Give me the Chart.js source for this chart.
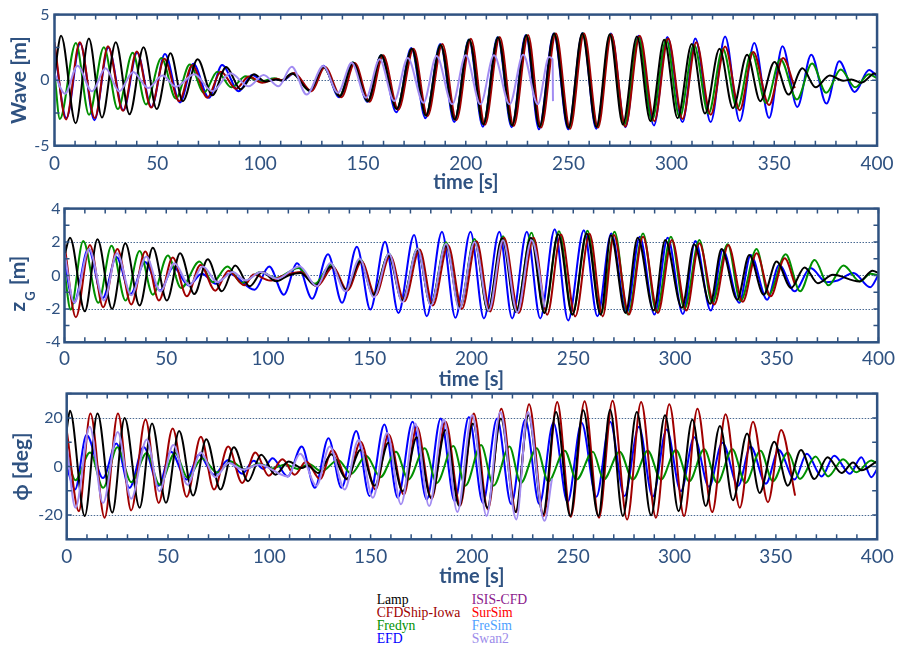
<!DOCTYPE html>
<html><head><meta charset="utf-8">
<script src="https://cdn.jsdelivr.net/npm/chart.js@4.4.1/dist/chart.umd.min.js"></script>
<style>
html,body{margin:0;padding:0;background:#fff;width:900px;height:647px;overflow:hidden;position:relative}
canvas{position:absolute;left:0}
.leg{position:absolute;font-family:'Liberation Serif','Times New Roman',serif;font-size:13.7px;line-height:13px;white-space:nowrap}
</style></head><body>
<canvas id="c1" width="900" height="195" style="top:0px"></canvas>
<canvas id="c2" width="900" height="197" style="top:195px"></canvas>
<canvas id="c3" width="900" height="209" style="top:380px"></canvas>
<div id="legend"></div>
<script>
// ---------- DATA: [time s, value] at read-off peaks / troughs ----------
const xTickLabels = [0, 50, 100, 150, 200, 250, 300, 350, 400];
const legendNames  = ['Lamp', 'CFDShip-Iowa', 'Fredyn', 'EFD', 'ISIS-CFD', 'SurSim', 'FreSim', 'Swan2'];
const legendColors = ['#000000', '#A00000', '#009000', '#0000FF', '#8B1A8B', '#FF0000', '#4DA0FF', '#9C8CEA'];

// Wave [m]
const waveLamp = [[0,0.4],[3.2,3.38],[10.3,-3.28],[16.7,3.18],[23.1,-2.85],[29.8,2.89],[36.5,-2.6],[43.3,2.51],[49.7,-2.2],[56.4,2.06],[62.4,-1.6],[69.6,1.6],[76.8,-1.15],[83.5,1.0],[90.5,-0.7],[97,0.45],[102.5,-0.1],[108,0.05],[110.5,-0.05],[115.5,0.5],[124.2,-0.8],[130.7,1.02],[138.7,-1.22],[145.2,1.32],[152.4,-1.6],[158.9,1.89],[166.4,-2.2],[173.8,2.39],[180.6,-2.7],[187.8,2.69],[194.6,-3.0],[201.7,3.08],[208.5,-3.38],[215.7,3.26],[222.5,-3.45],[229.4,3.43],[235.8,-3.58],[242.9,3.56],[249.9,-3.63],[256.6,3.56],[263.5,-3.58],[270,3.5],[276.4,-3.38],[283.2,3.33],[289.8,-3.13],[296.5,3.08],[303,-2.9],[309.9,2.76],[316.3,-2.54],[323.4,2.39],[329.9,-2.14],[336.8,1.94],[343.2,-1.6],[350.1,1.39],[356.9,-1.1],[363.7,0.9],[370.1,-0.55],[377,0.35],[383.5,-0.05],[387.5,0.05],[392.4,-0.2],[398.8,0.5],[400,0.45]];
const waveCFDShip = [[0,2.9],[5.6,-3.0],[12.3,2.89],[19.6,-2.9],[26,2.59],[33.3,-2.34],[40,2.19],[47,-2.09],[53.4,1.64],[60.6,-1.6],[67,1.14],[74.3,-1.34],[80.9,0.65],[88.3,-0.65],[94.5,0.27],[101,-0.2],[108,0.1],[110.5,0],[116.5,0.55],[125,-0.85],[131.5,1.0],[139.5,-1.3],[146,1.3],[153.2,-1.65],[159.8,1.9],[167.2,-2.25],[174.6,2.4],[181.4,-2.75],[188.6,2.75],[195.4,-3.05],[202.5,3.15],[209.3,-3.4],[216.5,3.3],[223.3,-3.5],[230.3,3.45],[236.6,-3.62],[243.8,3.56],[250.7,-3.7],[257.5,3.56],[264.3,-3.62],[270.8,3.5],[277.6,-3.53],[284.6,3.38],[291.7,-3.13],[298.4,3.18],[305.4,-2.96],[312.1,2.89],[319.1,-2.64],[326.1,2.56],[333.2,-2.29],[339.8,2.14],[347.5,-1.9],[354.3,1.69],[360,-0.6]];
const waveFredyn = [[0,0.6],[2.6,-2.96],[10.4,2.84],[16.8,-2.64],[24,2.51],[30.8,-2.21],[38,2.09],[44.5,-1.85],[52,1.69],[59,-1.4],[65.8,1.19],[72.7,-0.95],[79.2,0.65],[86,-0.55],[93,0.3],[100,-0.1],[107,0.15],[110.5,0],[116,0.5],[124,-0.8],[130.8,1.0],[138.6,-1.2],[145.2,1.35],[152.4,-1.6],[158.9,1.9],[166.4,-2.2],[173.8,2.4],[180.6,-2.7],[187.8,2.7],[194.6,-3.0],[201.7,3.1],[208.5,-3.35],[215.7,3.28],[222.5,-3.45],[229.6,3.45],[236,-3.58],[243.2,3.56],[250.2,-3.63],[257,3.58],[264,-3.6],[270.3,3.5],[277,-3.45],[284,3.3],[290.5,-3.1],[297.5,3.1],[304,-2.85],[311,2.7],[318,-2.55],[325,2.4],[332,-2.15],[339,2.1],[346,-1.75],[353,1.6],[361,-1.47],[368.4,1.27],[375.3,-0.97],[382.3,0.82],[389.4,-0.55],[396,0.45],[400,0.15]];
const waveEFD = [[0,2.4],[5.8,-2.9],[12.5,2.8],[19.4,-3.05],[26.2,2.5],[33.5,-2.3],[40.2,2.1],[47.2,-2.05],[53.7,2.0],[61,-1.7],[67.5,1.25],[75.1,-1.35],[81.5,1.15],[89.6,-0.85],[96.1,0.4],[102,-0.1],[105.7,0.1],[111,0],[116.5,0.5],[124.5,-0.85],[130.7,1.1],[138.5,-1.3],[145,1.35],[152.2,-1.65],[158.8,1.89],[166.2,-2.45],[173.5,2.45],[180.4,-2.9],[187.6,2.75],[194.4,-3.2],[201.5,3.1],[208.3,-3.55],[215.5,3.3],[222.3,-3.6],[229.2,3.45],[235.6,-3.75],[242.8,3.56],[249.8,-3.75],[256.8,3.6],[263.4,-3.7],[270.6,3.56],[277.6,-3.6],[284,3.38],[291.5,-3.45],[298,3.3],[305.4,-3.2],[311.6,3.18],[319.1,-3.2],[326.1,3.33],[333.2,-3.13],[340.3,2.84],[347.5,-2.89],[354,2.59],[361.2,-2.04],[368,1.94],[375.4,-1.79],[381.6,1.44],[389.1,-0.9],[396.1,0.77],[400,0.3]];
const waveSwan2 = [[0,0.5],[5.1,-1.04],[11.2,1.09],[18.2,-0.85],[24.8,0.9],[31.5,-0.85],[38.2,0.62],[45.5,-0.6],[52.5,0.35],[59,-0.5],[68,0.45],[76.7,-0.84],[85.6,0.52],[94.4,-0.47],[101.7,0.4],[108.9,-0.47],[115.4,1.02],[122.6,-1.1],[130.7,1.08],[137.8,-0.97],[144.5,1.32],[151.5,-1.34],[158.1,1.59],[165.2,-1.59],[171.8,1.69],[179.4,-1.72],[185.8,1.84],[193.4,-1.84],[200,1.89],[207.1,-1.84],[213.7,1.89],[221.3,-1.84],[227.9,1.94],[235,-1.84],[240.5,1.77],[242.2,1.6],[242.4,-1.6]];

// z_G [m]
const zLamp = [[0,1.2],[2.7,2.26],[10,-2.14],[16.2,2.16],[23.4,-2.0],[29.9,1.92],[36.9,-1.8],[43.4,1.66],[50.3,-1.5],[56.8,1.33],[63.8,-1.11],[70.4,0.97],[77.3,-0.95],[83.9,0.59],[91,-0.65],[97.2,0.2],[104,-0.35],[110,0.0],[116,0.15],[123.3,-0.6],[131.1,0.53],[138.3,-0.85],[145.3,0.83],[151.8,-1.15],[159.2,1.19],[166,-1.5],[173.5,1.52],[180,-1.74],[187.4,1.78],[194.2,-1.94],[201.5,2.02],[208.1,-2.1],[215,2.22],[221.9,-2.18],[229.2,2.26],[235.8,-2.24],[242.6,2.46],[249.6,-2.34],[256.6,2.51],[263.5,-2.34],[268.5,2.4],[275.7,-2.24],[281.7,2.26],[289.5,-2.1],[295.2,2.12],[303.4,-1.94],[309.4,1.86],[317.3,-1.7],[322.9,1.58],[330.6,-1.45],[336.5,1.23],[343.6,-1.15],[349.9,0.83],[357.1,-0.75],[363.7,0.48],[370.2,-0.46],[377.6,0.04],[390.6,-0.36],[397.1,0.28],[400,0.14]];
const zCFDShip = [[0,1.86],[5.6,-2.5],[12.5,1.82],[19,-1.9],[26,1.58],[32.8,-1.74],[39.7,1.43],[46.4,-1.5],[53.2,1.07],[60.1,-1.25],[66.8,0.63],[74.1,-0.91],[80.6,0.28],[88.3,-0.59],[93,0.05],[101,-0.3],[108,0.0],[116,0.2],[124,-0.65],[132,0.5],[139,-0.9],[146,0.83],[152.8,-1.2],[160,1.2],[167,-1.55],[174.5,1.55],[181,-1.8],[188.5,1.8],[195.3,-2.0],[202.5,2.05],[209.2,-2.15],[216,2.25],[223.2,-2.25],[230.5,2.25],[237.2,-2.35],[244,2.45],[251,-2.45],[258,2.5],[264.5,-2.45],[270,2.42],[277.4,-2.34],[284.3,2.32],[291.6,-2.24],[298.5,2.12],[305.6,-2.1],[312,1.92],[319.3,-1.74],[326.2,1.82],[333.3,-1.58],[340.1,1.33],[347,-1.25],[353.9,1.03],[359,-0.55]];
const zFredyn = [[0,0.24],[3,-2.04],[9.2,2.06],[16.6,-1.64],[23.1,1.78],[30,-1.5],[36.9,1.47],[43.4,-1.15],[50.8,1.19],[57.3,-0.75],[66.3,0.83],[72.8,-0.4],[80.1,0.53],[87,-0.45],[96.4,0.2],[104,-0.15],[115,0.45],[123,-0.5],[131,0.65],[138.3,-0.85],[145.5,0.95],[151.8,-1.15],[159.5,1.3],[166,-1.5],[173.5,1.62],[180,-1.74],[187.5,1.98],[194.2,-1.94],[201.5,2.18],[208.1,-2.1],[215.5,2.35],[221.9,-2.18],[229.5,2.55],[235.8,-2.24],[243,2.65],[249.6,-2.34],[257,2.68],[263.5,-2.34],[270.3,2.61],[276.9,-2.34],[284.3,2.51],[290.9,-2.18],[298,2.32],[304.7,-1.98],[312,2.12],[318.3,-1.64],[325.9,1.86],[332.2,-1.54],[340.1,1.58],[346,-1.15],[354.4,1.27],[361.5,-0.95],[368.6,0.93],[375.4,-0.59],[382.8,0.59],[390.9,-0.36],[396,0.1],[400,0.0]];
const zEFD = [[0,0.8],[4.6,-1.65],[11.7,1.6],[18.8,-1.35],[25.5,1.1],[32.5,-1.1],[39.5,0.8],[47,-0.9],[53.5,0.5],[61,-0.6],[67.5,0.1],[74.4,-0.5],[81,0.1],[93.4,-0.85],[100.6,0.53],[107.8,-1.15],[114.3,0.73],[121.7,-1.39],[129.5,1.27],[136.4,-1.64],[143.7,1.72],[150.3,-2.04],[157.5,2.02],[164.1,-2.24],[171.8,2.42],[178,-2.44],[185.5,2.61],[192.1,-2.53],[199.5,2.61],[206.1,-2.57],[213.7,2.61],[220,-2.57],[227.2,2.61],[233.8,-2.57],[240.9,2.77],[247.5,-2.69],[255.2,2.71],[261.9,-2.44],[268.7,2.51],[276.2,-2.24],[282.7,2.32],[289.9,-2.34],[296.4,2.26],[303.9,-2.3],[310,2.06],[317.6,-2.1],[323.5,1.52],[331.6,-1.64],[337.2,1.23],[345.3,-1.45],[351.2,0.63],[358.8,-0.95],[366.6,0.44],[374.4,-0.4],[380,-0.3],[387.7,0.14],[395.9,-0.71],[400,0.04]];
const zSwan2 = [[0,1.33],[4.8,-1.64],[12.1,1.58],[19.4,-1.5],[25.8,1.33],[32.8,-1.19],[40.2,1.13],[47.1,-0.95],[54,0.73],[61.4,-0.59],[67.9,0.53],[75.2,-0.4],[82.6,0.2],[89,-0.3],[96.5,0.2],[104.5,-0.2],[115.5,0.55],[124,-0.65],[130.6,0.75],[138,-0.95],[145,1.0],[152,-1.3],[159.5,1.3],[166,-1.6],[173.5,1.6],[180,-1.8],[187.5,1.9],[194,-2.0],[201.5,2.0],[208.5,-2.1],[215.5,2.1],[222.5,-2.2],[229.5,2.1],[236,-1.9]];

// phi [deg]
const phiLamp = [[0,15],[1.6,22.9],[8.9,-20.4],[15.2,21.8],[22.5,-19],[28.6,20],[36,-17],[42.1,17.7],[49,-15],[55.5,14.6],[62.4,-12],[68.9,11.2],[75.9,-9.5],[82.5,7.9],[89.5,-6.1],[96,4.8],[103,-3.4],[109.5,2.0],[116,-0.6],[119,0.3],[124.2,-2.7],[130.7,5.0],[138.1,-5.2],[145,6.8],[152,-7.9],[158.8,9.8],[165.9,-10.2],[172.8,12],[179.8,-12.9],[187,15],[193.7,-16.3],[200.5,17.7],[207.6,-17],[214.3,19.7],[221.5,-18.8],[227.9,21.1],[235.1,-19.7],[241.5,22.4],[248.5,-20.4],[254.9,23.1],[262.4,-20.4],[268.2,23.4],[274.5,-20.4],[281.4,22.4],[288.4,-20.1],[295.3,21.1],[302,-18.4],[308.8,19.3],[315.4,-16.3],[322.4,16.7],[328.8,-13.9],[335.8,13.6],[342,-10.9],[349.2,10.2],[355.9,-7.9],[362.4,6.8],[369,-5.2],[375.5,3.8],[382.4,-2.7],[388.1,1.6],[392.2,-1.6],[399.6,2.0]];
const phiCFDShip = [[0,15],[6,-18.4],[11.7,21.8],[18.7,-21.1],[25.3,21.8],[31.8,-18.1],[38.9,19.3],[45.4,-15],[52.3,15.6],[59.2,-12.5],[66.2,12.2],[72.7,-9.5],[79.7,8.2],[86.6,-6.8],[93.1,5.7],[99.7,-3.8],[106.5,3.0],[112.5,-3.4],[118.2,2.0],[125,-5.2],[131.2,6.8],[138.6,-5.4],[145,10.2],[152.4,-9.5],[158.8,13.3],[166.4,-11.6],[172.8,16.3],[180.1,-13.3],[187,18.4],[194.2,-16.1],[200.9,21.8],[207.9,-17.7],[214.5,23.8],[221.8,-18.8],[228.2,25.6],[235.4,-20.4],[242.1,26.5],[248.8,-20.7],[255.6,26.9],[262.7,-21.1],[269.4,27.1],[276.6,-21.8],[283.5,26.5],[290.8,-21.1],[297.4,25.6],[304.7,-20.4],[311.3,23.8],[318.6,-18.8],[325.2,21.5],[332.2,-17],[338.7,18.4],[346.1,-14.7],[352.6,15],[359.5,-12]];
const phiFredyn = [[0,6],[4.3,-5.7],[11.5,5.7],[18,-8.8],[25,7.9],[31.9,-6.5],[39.5,5.5],[45.8,-7.5],[53.5,5.5],[59.8,-4.8],[66.8,3.4],[74.2,-2.5],[81,2.0],[88,-1.2],[95,1.2],[101.5,-0.8],[108,0.8],[114,-1.0],[119.5,1.0],[125.8,-2.0],[133.9,2.7],[140.4,-3.0],[147.8,4.4],[154.8,-4.4],[162.5,6.1],[168.6,-5.4],[176.7,7.5],[182.6,-6.8],[190.8,8.4],[196.8,-7.9],[204.5,8.8],[210.7,-7.9],[218.5,8.2],[224.1,-6.8],[231.9,7.5],[237.7,-6.1],[245.8,6.5],[251.6,-5.4],[259.7,6.1],[265,-5.4],[272.9,6.1],[279.4,-5.4],[286.8,6.5],[293.3,-5.4],[300.7,6.8],[307.2,-6.1],[314.6,7.1],[321.1,-6.8],[328.5,7.1],[335,-6.8],[342.4,6.5],[348.5,-6.1],[355.9,5.7],[361.9,-5.2],[369.6,4.1],[375.8,-4.1],[383.2,3.0],[389.7,-2.4],[397.1,2.4],[400,1.2]];
const phiEFD = [[0,0],[4.1,-9.5],[9.8,12.9],[17.9,-4.8],[24.5,9.5],[31,-8.8],[38,8],[45.4,-7.9],[51.4,6.1],[59.2,-5.4],[65.3,4.8],[72.7,-3.4],[79.7,2.7],[86.6,-3.0],[92.3,2.3],[97,-1.0],[101.6,3.4],[109,-4.1],[116,8.2],[122.5,-8.8],[129.2,11.6],[135.6,-8.8],[142.9,14.6],[149.5,-12.2],[156.8,17.3],[163.4,-12.9],[170.7,18.4],[177.7,-13.6],[184.6,19.7],[191.5,-14.3],[198.5,20.4],[205.4,-15],[212.4,19.7],[219.4,-15.6],[226.3,19.3],[233.3,-15.6],[240.2,18],[247.2,-14.7],[254.1,18],[261.4,-12.5],[268.2,18.4],[275.3,-12.2],[282.4,16.3],[289.2,-12.5],[296.1,15.2],[303.1,-10.2],[309.7,12],[317,-8.4],[323.6,9.8],[331.4,-7.9],[337.5,8.2],[345.1,-7.1],[351.4,6.8],[359.2,-5.4],[365.3,5.2],[372.6,-4.1],[378.8,4.4],[386.5,-3.0],[392.2,3.8],[397.1,-4.4],[400,-1.1]];
const phiSwan2 = [[0,8.8],[4.3,-17],[11.4,16.3],[17.9,-15.1],[25.2,14.2],[31.8,-13.3],[39.5,11.1],[45.7,-10.2],[52.6,8.8],[59.6,-7.5],[66.2,5.7],[73.2,-4.4],[80,1.4],[87,-1.3],[95,0.8],[109,-4.1],[115.2,5.2],[123.3,-7.9],[129.8,8.2],[137.2,-9.5],[144,10.9],[151.1,-12.9],[158.1,13.9],[165,-15.6],[172,17.7],[178.9,-16.3],[186.2,19.3],[192.8,-18.8],[200.1,21.1],[207.2,-20.4],[214,22.4],[221.9,-21.8],[227.6,22.4],[235.8,-22.4],[239.5,-5]];

// ---------- STYLE ----------
const AXIS = '#2f5281';
const FONT = "Lato, 'Open Sans', sans-serif";
const COL = {lamp:'#000000', cfd:'#A00000', fredyn:'#009000', efd:'#0000FF', swan2:'#A28CF2'};

const framePlugin = {
  id: 'frame',
  beforeDatasetsDraw(chart, args, opts) {
    const {ctx, chartArea: a, scales: {y}} = chart;
    ctx.save();
    ctx.strokeStyle = '#4a6a92'; ctx.lineWidth = 1; ctx.setLineDash([1.5, 1.5]);
    (opts.gridValues || []).forEach(v => {
      const py = Math.round(y.getPixelForValue(v)) + 0.5;
      ctx.beginPath(); ctx.moveTo(a.left, py); ctx.lineTo(a.right, py); ctx.stroke();
    });
    ctx.restore();
  },
  afterDraw(chart, args, opts) {
    const {ctx, chartArea: a, scales: {x, y}} = chart;
    ctx.save();
    ctx.strokeStyle = AXIS; ctx.lineWidth = 1.5;
    ctx.beginPath();
    x.ticks.forEach(t => { const px = x.getPixelForValue(t.value);
      ctx.moveTo(px, a.bottom); ctx.lineTo(px, a.bottom - 5);
      ctx.moveTo(px, a.top); ctx.lineTo(px, a.top + 5); });
    y.ticks.forEach(t => { const py = y.getPixelForValue(t.value);
      ctx.moveTo(a.left, py); ctx.lineTo(a.left + 5, py);
      ctx.moveTo(a.right, py); ctx.lineTo(a.right - 5, py); });
    ctx.stroke();
    ctx.lineWidth = 2.5;
    ctx.strokeRect(a.left, a.top, a.right - a.left, a.bottom - a.top);
    if (opts.zTitle) {
      // rotated "z_G [m]" title with subscript
      ctx.fillStyle = AXIS;
      ctx.translate(25, (a.top + a.bottom) / 2 + 36);
      ctx.rotate(-Math.PI / 2);
      ctx.textBaseline = 'alphabetic'; ctx.textAlign = 'left';
      ctx.font = 'bold 21px ' + FONT;
      ctx.fillText('z', 0, 0);
      const wz = ctx.measureText('z').width;
      ctx.font = 'bold 13px ' + FONT;
      ctx.fillText('G', wz + 1, 10);
      const wg = ctx.measureText('G').width;
      ctx.font = 'bold 21px ' + FONT;
      ctx.fillText(' [m]', wz + wg + 2, 0);
    }
    ctx.restore();
  }
};

function ds(label, arr, color) {
  return { label, data: arr.map(p => ({x: p[0], y: p[1]})), borderColor: color, borderWidth: 2,
           pointRadius: 0, fill: false, cubicInterpolationMode: 'monotone' };
}

function makePanel(id, o) {
  return new Chart(document.getElementById(id), {
    type: 'line',
    data: { datasets: o.datasets },
    options: {
      responsive: false, animation: false, devicePixelRatio: 1,
      layout: { padding: { top: o.top, right: 17.3, left: 0, bottom: 0 } },
      plugins: { legend: {display: false}, tooltip: {enabled: false},
                 frame: { gridValues: o.grid, zTitle: !!o.zTitle } },
      scales: {
        x: { type: 'linear', min: 0, max: 400,
             grid: {display: false, drawTicks: false}, border: {display: false},
             ticks: { stepSize: 10, maxTicksLimit: 100, autoSkip: false, maxRotation: 0, padding: o.xPad,
                      color: AXIS, font: {family: FONT, size: 19},
                      callback: v => xTickLabels.includes(v) ? String(v) : '' },
             title: { display: true, text: 'time [s]', color: AXIS,
                      font: {family: FONT, size: 20, weight: 'bold'}, padding: {top: 0, bottom: 0} },
             afterFit: s => { s.height = o.xH; } },
        y: { type: 'linear', min: o.ymin, max: o.ymax,
             grid: {display: false, drawTicks: false}, border: {display: false},
             ticks: { stepSize: o.ystep, maxTicksLimit: 100, autoSkip: false, padding: o.yPad,
                      color: AXIS, font: {family: FONT, size: 16},
                      callback: v => o.yLabels.includes(v) ? String(v) : '' },
             title: { display: !!o.ytitle, text: o.ytitle || '', color: AXIS,
                      font: {family: FONT, size: 21, weight: 'bold'}, padding: {top: o.ytPad, bottom: 0} },
             afterFit: s => { s.width = o.yW; } }
      }
    },
    plugins: [framePlugin]
  });
}

makePanel('c1', {
  datasets: [ds('Swan2', waveSwan2, COL.swan2), ds('Lamp', waveLamp, COL.lamp), ds('CFDShip-Iowa', waveCFDShip, COL.cfd),
             ds('Fredyn', waveFredyn, COL.fredyn), ds('EFD', waveEFD, COL.efd)],
  top: 11.7, xH: 49.3, xPad: 6.4, yW: 54.5, yPad: 5, ytPad: 6.6,
  ymin: -5, ymax: 5, ystep: 2.5, yLabels: [-5, 0, 5], grid: [0], ytitle: 'Wave [m]'
});
makePanel('c2', {
  datasets: [ds('Swan2', zSwan2, COL.swan2), ds('Lamp', zLamp, COL.lamp), ds('CFDShip-Iowa', zCFDShip, COL.cfd),
             ds('Fredyn', zFredyn, COL.fredyn), ds('EFD', zEFD, COL.efd)],
  top: 13.3, xH: 49.7, xPad: 5, yW: 64.5, yPad: 4, ytPad: 0,
  ymin: -4, ymax: 4, ystep: 1, yLabels: [-4, -2, 0, 2, 4], grid: [-2, 0, 2], ytitle: '', zTitle: true
});
makePanel('c3', {
  datasets: [ds('Swan2', phiSwan2, COL.swan2), ds('Lamp', phiLamp, COL.lamp), ds('CFDShip-Iowa', phiCFDShip, COL.cfd),
             ds('Fredyn', phiFredyn, COL.fredyn), ds('EFD', phiEFD, COL.efd)],
  top: 13.3, xH: 49.7, xPad: 6.3, yW: 66.7, yPad: 4, ytPad: 8.9,
  ymin: -30, ymax: 30, ystep: 10, yLabels: [-20, 0, 20], grid: [-20, 0, 20], ytitle: '\u03D5 [deg]'
});

// legend (two columns of coloured names)
const leg = document.getElementById('legend');
legendNames.forEach((name, i) => {
  const d = document.createElement('div');
  d.className = 'leg';
  d.textContent = name;
  d.style.color = legendColors[i];
  d.style.left = (i < 4 ? 376.7 : 471.7) + 'px';
  d.style.top = (592.5 + (i % 4) * 13) + 'px';
  leg.appendChild(d);
});
</script>
</body></html>
